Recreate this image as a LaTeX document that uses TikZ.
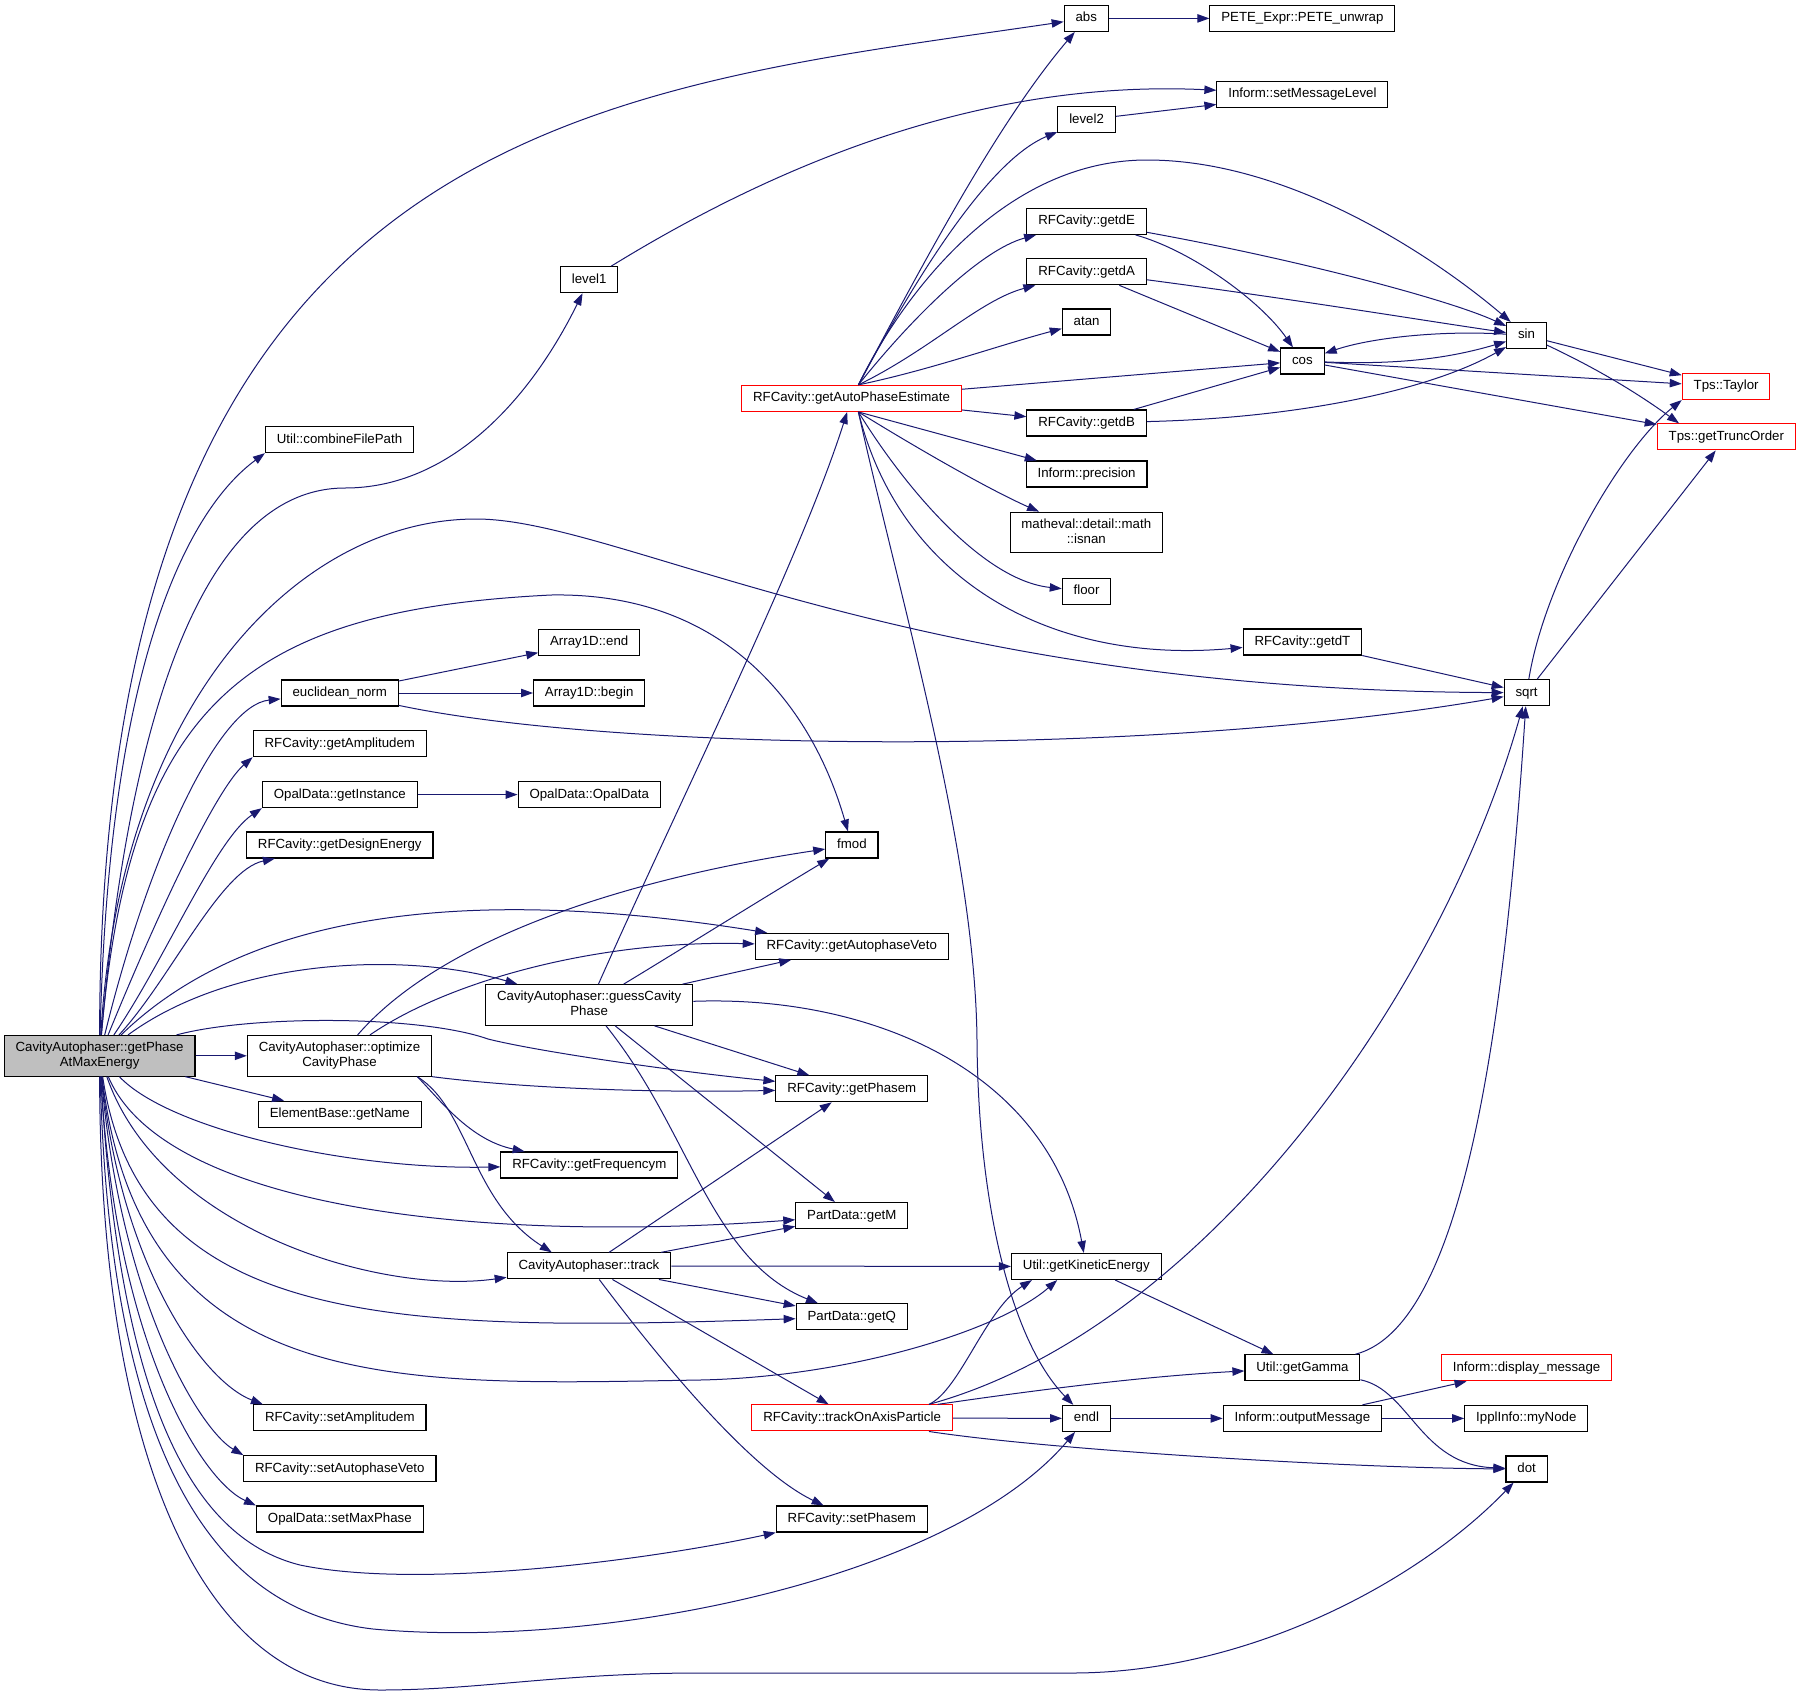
\documentclass[tikz,border=0pt]{standalone}
\usepackage{fontspec}
\setmainfont{Liberation Sans}
\usetikzlibrary{arrows.meta}
\definecolor{edgeblue}{HTML}{191970}
\definecolor{maingray}{HTML}{BFBFBF}
\begin{document}
\begin{tikzpicture}[x=0.5pt,y=-0.5pt,
    fnbox/.style={draw=black,line width=0.55pt,fill=white,font=\fontsize{6.63}{7.6}\selectfont,inner xsep=5.7pt,inner ysep=0pt,minimum height=13pt,text height=4.9pt,text depth=1.5pt},
    fnred/.style={fnbox,draw=red},
    fntwo/.style={draw=black,line width=0.55pt,fill=white,font=\fontsize{6.63}{7.6}\selectfont,align=center,inner xsep=5.7pt,inner ysep=3.2pt,text depth=1.5pt},
    call/.style={draw=edgeblue,line width=0.5pt,-{Triangle[length=6pt,width=4.2pt]}}]
    \useasboundingbox (0,0) rectangle (1800,1698);

    \node[fnbox] (abs) at (1086.3,18.4) {abs};
    \node[fnbox] (pete) at (1302.4,18.4) {PETE\_Expr::PETE\_unwrap};
    \node[fnbox] (setMsg) at (1302.4,94.3) {Inform::setMessageLevel};
    \node[fnbox] (level2) at (1086.6,119.8) {level2};
    \node[fnbox] (getdE) at (1086.6,221.4) {RFCavity::getdE};
    \node[fnbox] (getdA) at (1086.6,271.8) {RFCavity::getdA};
    \node[fnbox] (level1) at (589.2,279.7) {level1};
    \node[fnbox] (atan) at (1086.6,322) {atan};
    \node[fnbox] (sin) at (1526.5,335.5) {sin};
    \node[fnbox] (cos) at (1302.4,361) {cos};
    \node[fnred] (taylor) at (1726.1,386.5) {Tps::Taylor};
    \node[fnred] (autoPhase) at (851.5,398.4) {RFCavity::getAutoPhaseEstimate};
    \node[fnbox] (getdB) at (1086.6,423) {RFCavity::getdB};
    \node[fnred] (truncOrder) at (1726.3,436.9) {Tps::getTruncOrder};
    \node[fnbox] (combine) at (339.5,439.6) {Util::combineFilePath};
    \node[fnbox] (precision) at (1086.6,474) {Inform::precision};
    \node[fntwo] (isnan) at (1086.3,532.5) {matheval::detail::math\\::isnan};
    \node[fnbox] (floor) at (1086.6,591.3) {floor};
    \node[fnbox] (arrEnd) at (589.2,642.3) {Array1D::end};
    \node[fnbox] (getdT) at (1302.4,642) {RFCavity::getdT};
    \node[fnbox] (eucl) at (339.8,693) {euclidean\_norm};
    \node[fnbox] (arrBegin) at (589.2,693) {Array1D::begin};
    \node[fnbox] (sqrt) at (1526.6,692.7) {sqrt};
    \node[fnbox] (getAmp) at (339.8,743.6) {RFCavity::getAmplitudem};
    \node[fnbox] (getInst) at (339.8,794.6) {OpalData::getInstance};
    \node[fnbox] (opalData) at (589.2,794.6) {OpalData::OpalData};
    \node[fnbox] (getDesign) at (339.8,845) {RFCavity::getDesignEnergy};
    \node[fnbox] (fmod) at (851.9,845) {fmod};
    \node[fnbox] (veto) at (851.8,946.3) {RFCavity::getAutophaseVeto};
    \node[fntwo] (guess) at (589.2,1005) {CavityAutophaser::guessCavity\\Phase};
    \node[fntwo,fill=maingray] (main) at (99.6,1055.8) {CavityAutophaser::getPhase\\AtMaxEnergy};
    \node[fntwo] (optimize) at (339.5,1055.8) {CavityAutophaser::optimize\\CavityPhase};
    \node[fnbox] (getPhasem) at (851.8,1088.8) {RFCavity::getPhasem};
    \node[fnbox] (getName) at (339.8,1114.2) {ElementBase::getName};
    \node[fnbox] (freq) at (589.3,1165) {RFCavity::getFrequencym};
    \node[fnbox] (getM) at (851.8,1215.6) {PartData::getM};
    \node[fnbox] (track) at (589,1265.9) {CavityAutophaser::track};
    \node[fnbox] (kinetic) at (1086.3,1266.5) {Util::getKineticEnergy};
    \node[fnbox] (getQ) at (851.8,1316.8) {PartData::getQ};
    \node[fnbox] (gamma) at (1302.4,1367.8) {Util::getGamma};
    \node[fnred] (display) at (1526.6,1367.8) {Inform::display\_message};
    \node[fnbox] (setAmp) at (339.8,1417.9) {RFCavity::setAmplitudem};
    \node[fnred] (onAxis) at (852.1,1417.9) {RFCavity::trackOnAxisParticle};
    \node[fnbox] (endl) at (1086.5,1418.4) {endl};
    \node[fnbox] (outMsg) at (1302.4,1418.4) {Inform::outputMessage};
    \node[fnbox] (myNode) at (1526.3,1418.4) {IpplInfo::myNode};
    \node[fnbox] (setAV) at (339.8,1468.7) {RFCavity::setAutophaseVeto};
    \node[fnbox] (dot) at (1526.6,1469) {dot};
    \node[fnbox] (setMP) at (339.8,1519) {OpalData::setMaxPhase};
    \node[fnbox] (setPhasem) at (851.8,1519) {RFCavity::setPhasem};

    \draw[call] (main) .. controls (100,120) and (600,90) .. (abs);
    \draw[call] (main) .. controls (110,600) and (215,490) .. (combine.south west);
    \draw[call] (main) .. controls (125,760) and (190,488) .. (345,488) .. controls (450,488) and (530,400) .. (level1);
    \draw[call] (main) .. controls (120,700) and (300,519) .. (476,519) .. controls (620,519) and (900,690) .. (sqrt);
    \draw[call] (main) .. controls (130,700) and (250,610) .. (551,595) .. controls (720,592) and (810,700) .. (fmod);
    \draw[call] (main) .. controls (150,850) and (220,705) .. (eucl);
    \draw[call] (main) .. controls (155,920) and (215,790) .. (getAmp.south west);
    \draw[call] (main) .. controls (165,960) and (215,840) .. (getInst.south west);
    \draw[call] (main) .. controls (170,980) and (220,870) .. (getDesign);
    \draw[call] (main) .. controls (260,900) and (500,890) .. (veto);
    \draw[call] (main) .. controls (230,960) and (400,950) .. (guess);
    \draw[call] (main) .. controls (250,1015) and (420,1015) .. (488,1039) .. controls (540,1052) and (680,1072) .. (getPhasem);
    \draw[call] (main) -- (optimize);
    \draw[call] (main) -- (getName);
    \draw[call] (main) .. controls (170,1130) and (350,1170) .. (freq);
    \draw[call] (main) .. controls (160,1200) and (450,1245) .. (getM);
    \draw[call] (main) .. controls (160,1230) and (380,1295) .. (track);
    \draw[call] (main) .. controls (140,1330) and (400,1332) .. (getQ);
    \draw[call] (main) .. controls (140,1400) and (400,1385) .. (700,1380) .. controls (850,1377) and (1000,1330) .. (kinetic.205);
    \draw[call] (main) .. controls (120,1260) and (200,1380) .. (setAmp.170);
    \draw[call] (main) .. controls (120,1300) and (200,1430) .. (setAV.172);
    \draw[call] (main) .. controls (115,1340) and (200,1480) .. (setMP.north west);
    \draw[call] (main) .. controls (120,1420) and (200,1540) .. (300,1565) .. controls (420,1590) and (650,1560) .. (setPhasem.south west);
    \draw[call] (main) .. controls (110,1450) and (210,1610) .. (373,1629) .. controls (600,1650) and (950,1580) .. (endl);
    \draw[call] (main) .. controls (100,1450) and (200,1690) .. (380,1690) .. controls (480,1690) and (560,1673) .. (700,1673) -- (1072,1673) .. controls (1250,1673) and (1420,1580) .. (dot);

    \draw[call] (optimize) .. controls (440,940) and (620,880) .. (fmod);
    \draw[call] (optimize) .. controls (450,980) and (600,940) .. (veto);
    \draw[call] (optimize.south east) .. controls (520,1088) and (650,1093) .. (getPhasem);
    \draw[call] (optimize.345) .. controls (440,1100) and (470,1140) .. (freq);
    \draw[call] (optimize.345) .. controls (470,1110) and (470,1200) .. (track.160);

    \draw[call] (guess) .. controls (680,800) and (800,560) .. (autoPhase);
    \draw[call] (guess) .. controls (680,950) and (760,900) .. (fmod);
    \draw[call] (guess) -- (veto);
    \draw[call] (guess) -- (getPhasem);
    \draw[call] (guess) -- (getM);
    \draw[call] (guess) .. controls (690,1130) and (710,1260) .. (getQ);
    \draw[call] (guess) .. controls (870,995) and (1050,1070) .. (kinetic);

    \draw[call] (track) -- (getPhasem);
    \draw[call] (track) .. controls (700,1245) and (750,1235) .. (getM);
    \draw[call] (track) -- (kinetic);
    \draw[call] (track) -- (getQ);
    \draw[call] (track) -- (onAxis);
    \draw[call] (track) .. controls (660,1360) and (750,1470) .. (setPhasem);

    \draw[call] (onAxis.10) .. controls (960,1390) and (985,1310) .. (kinetic.194);
    \draw[call] (onAxis.10) .. controls (1200,1330) and (1440,1000) .. (sqrt);
    \draw[call] (onAxis.9) .. controls (1050,1388) and (1150,1376) .. (gamma);
    \draw[call] (onAxis) -- (endl);
    \draw[call] (onAxis.350) .. controls (1050,1450) and (1350,1468) .. (dot);

    \draw[call] (autoPhase.63) .. controls (930,250) and (1000,120) .. (abs);
    \draw[call] (autoPhase.63) .. controls (920,270) and (990,160) .. (level2);
    \draw[call] (autoPhase.63) .. controls (900,300) and (1000,160) .. (1147,160) .. controls (1300,160) and (1450,270) .. (sin);
    \draw[call] (autoPhase.63) .. controls (910,320) and (980,250) .. (getdE);
    \draw[call] (autoPhase.63) .. controls (930,350) and (980,300) .. (getdA);
    \draw[call] (autoPhase.63) .. controls (930,370) and (1000,345) .. (atan);
    \draw[call] (autoPhase) -- (cos);
    \draw[call] (autoPhase) -- (getdB);
    \draw[call] (autoPhase.297) -- (precision);
    \draw[call] (autoPhase.297) .. controls (920,450) and (990,490) .. (isnan);
    \draw[call] (autoPhase.297) .. controls (900,480) and (980,580) .. (floor);
    \draw[call] (autoPhase.297) .. controls (900,580) and (1050,665) .. (getdT);
    \draw[call] (autoPhase.297) .. controls (900,600) and (975,850) .. (977,1040) .. controls (978,1200) and (1010,1340) .. (endl);

    \draw[call] (level1) .. controls (800,150) and (1000,80) .. (setMsg);
    \draw[call] (level2) -- (setMsg);
    \draw[call] (abs) -- (pete);
    \draw[call] (getdE) .. controls (1300,260) and (1450,300) .. (sin);
    \draw[call] (getdE) .. controls (1190,250) and (1260,300) .. (cos);
    \draw[call] (getdA) .. controls (1300,300) and (1420,320) .. (sin);
    \draw[call] (getdA) -- (cos);
    \draw[call] (getdB) -- (cos);
    \draw[call] (getdB) .. controls (1300,418) and (1430,390) .. (sin);
    \draw[call] (cos) .. controls (1400,365) and (1450,358) .. (sin);
    \draw[call] (sin) .. controls (1440,330) and (1370,338) .. (cos);
    \draw[call] (cos) -- (taylor);
    \draw[call] (cos) -- (truncOrder);
    \draw[call] (sin) -- (taylor);
    \draw[call] (sin) .. controls (1600,370) and (1640,395) .. (truncOrder.164);
    \draw[call] (sqrt) .. controls (1545,580) and (1620,450) .. (taylor.south west);
    \draw[call] (sqrt) -- (truncOrder);
    \draw[call] (getdT) -- (sqrt);
    \draw[call] (eucl) -- (arrEnd);
    \draw[call] (eucl) -- (arrBegin);
    \draw[call] (eucl) .. controls (620,752) and (1150,758) .. (sqrt);
    \draw[call] (getInst) -- (opalData);
    \draw[call] (kinetic) -- (gamma);
    \draw[call] (gamma) .. controls (1450,1330) and (1500,1100) .. (sqrt);
    \draw[call] (gamma) .. controls (1410,1390) and (1420,1465) .. (dot);
    \draw[call] (endl) -- (outMsg);
    \draw[call] (outMsg) -- (display);
    \draw[call] (outMsg) -- (myNode);
\end{tikzpicture}
\end{document}
